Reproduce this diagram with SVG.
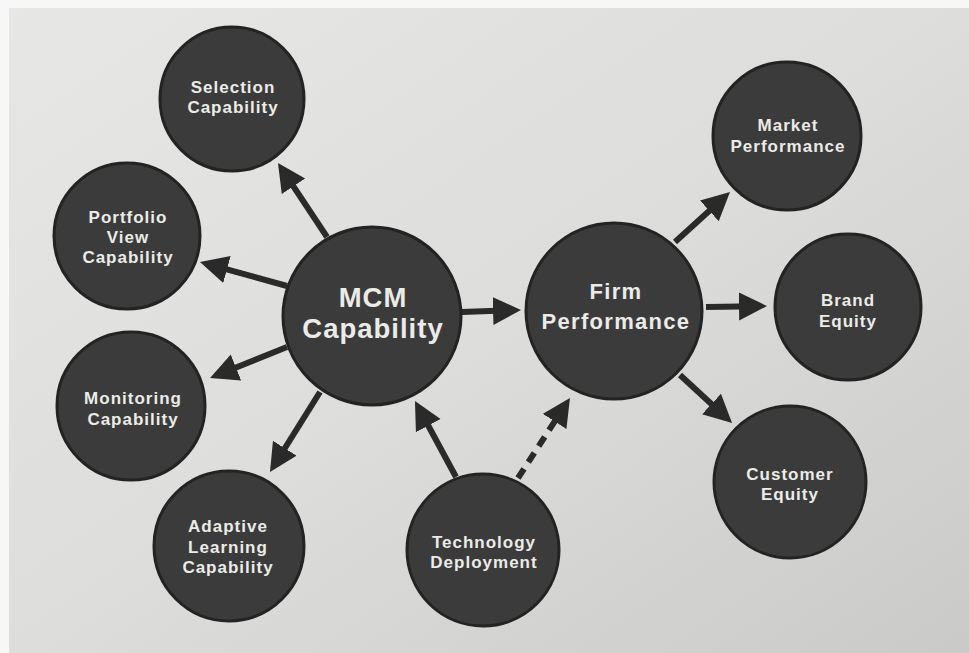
<svg xmlns="http://www.w3.org/2000/svg" width="969" height="653" viewBox="0 0 969 653">
  <defs>
    <linearGradient id="paper" x1="0" y1="0" x2="1" y2="1">
      <stop offset="0" stop-color="#e7e7e5"/>
      <stop offset="0.5" stop-color="#dddddb"/>
      <stop offset="1" stop-color="#cacac8"/>
    </linearGradient>
    <marker id="head" markerUnits="userSpaceOnUse" markerWidth="30" markerHeight="30" refX="18" refY="14" orient="auto">
      <path d="M0,0 L28,14 L0,28 Z" fill="#2a2a2a"/>
    </marker>
    <style>
      .node { fill: #3b3b3b; stroke: #232323; stroke-width: 3; }
      .lbl { font-family: "Liberation Sans", Arial, sans-serif; font-weight: bold; fill: #ebebe8; text-anchor: middle; font-size: 17px; letter-spacing: 1px; }
      .big { font-size: 27.5px; letter-spacing: 1px; }
      .mid { font-size: 22px; letter-spacing: 1.3px; }
      .edge { stroke: #2a2a2a; stroke-width: 6; fill: none; marker-end: url(#head); }
      .dash { stroke-dasharray: 11 8; }
    </style>
  </defs>

  <!-- page -->
  <rect x="0" y="0" width="969" height="653" fill="#f7f7f7"/>
  <rect x="9" y="8" width="960" height="645" fill="url(#paper)"/>

  <!-- connectors -->
  <g id="edges">
    <line class="edge" x1="327" y1="237" x2="283.5" y2="171.3"/>
    <line class="edge" x1="287" y1="286" x2="209.6" y2="264.7"/>
    <line class="edge" x1="287" y1="347" x2="219.3" y2="374.3"/>
    <line class="edge" x1="320" y1="392" x2="275.3" y2="463.5"/>
    <line class="edge" x1="462" y1="312" x2="511" y2="310.3"/>
    <line class="edge" x1="456" y1="477" x2="419.7" y2="409.8"/>
    <line class="edge dash" x1="518" y1="478" x2="564.5" y2="406.4"/>
    <line class="edge" x1="675" y1="242" x2="722.6" y2="198.7"/>
    <line class="edge" x1="706" y1="307" x2="757" y2="306.2"/>
    <line class="edge" x1="680" y1="375" x2="724.7" y2="416.2"/>
  </g>

  <g id="selection">
    <circle class="node" cx="232" cy="99" r="72"/>
    <text class="lbl" x="233" y="93">Selection</text>
    <text class="lbl" x="233" y="113">Capability</text>
  </g>

  <g id="portfolio">
    <circle class="node" cx="127" cy="236" r="73"/>
    <text class="lbl" x="128" y="223">Portfolio</text>
    <text class="lbl" x="128" y="243">View</text>
    <text class="lbl" x="128" y="263">Capability</text>
  </g>

  <g id="monitoring">
    <circle class="node" cx="131" cy="406" r="74"/>
    <text class="lbl" x="133" y="404">Monitoring</text>
    <text class="lbl" x="133" y="425">Capability</text>
  </g>

  <g id="adaptive">
    <circle class="node" cx="229" cy="546" r="75"/>
    <text class="lbl" x="228" y="532">Adaptive</text>
    <text class="lbl" x="228" y="553">Learning</text>
    <text class="lbl" x="228" y="573">Capability</text>
  </g>

  <g id="mcm">
    <circle class="node" cx="372" cy="316" r="89"/>
    <text class="lbl big" x="373" y="307">MCM</text>
    <text class="lbl big" x="373" y="338">Capability</text>
  </g>

  <g id="technology">
    <circle class="node" cx="483" cy="550" r="76"/>
    <text class="lbl" x="484" y="548">Technology</text>
    <text class="lbl" x="484" y="568">Deployment</text>
  </g>

  <g id="firm">
    <circle class="node" cx="614" cy="311" r="88"/>
    <text class="lbl mid" x="616" y="299">Firm</text>
    <text class="lbl mid" x="616" y="329">Performance</text>
  </g>

  <g id="market">
    <circle class="node" cx="787" cy="136" r="74"/>
    <text class="lbl" x="788" y="131">Market</text>
    <text class="lbl" x="788" y="152">Performance</text>
  </g>

  <g id="brand">
    <circle class="node" cx="848" cy="307" r="73"/>
    <text class="lbl" x="848" y="306">Brand</text>
    <text class="lbl" x="848" y="327">Equity</text>
  </g>

  <g id="customer">
    <circle class="node" cx="790" cy="482" r="76"/>
    <text class="lbl" x="790" y="480">Customer</text>
    <text class="lbl" x="790" y="500">Equity</text>
  </g>
</svg>
